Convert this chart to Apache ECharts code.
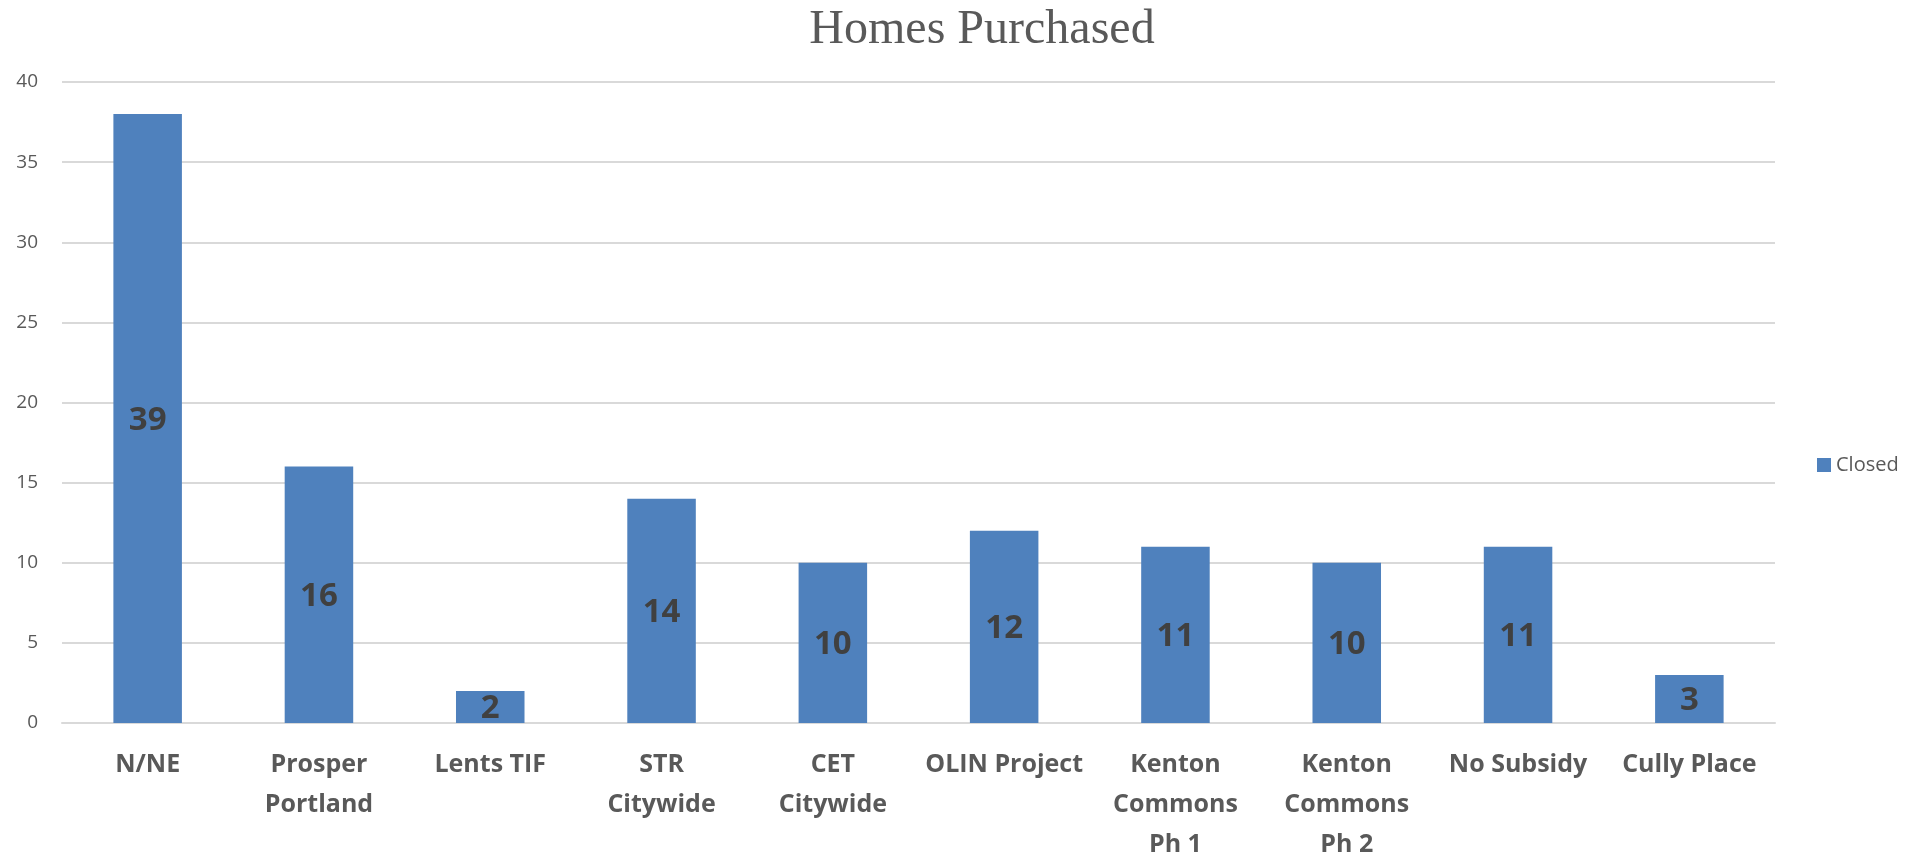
<!DOCTYPE html>
<html>
<head>
<meta charset="utf-8">
<script src="https://cdn.jsdelivr.net/npm/echarts@6/dist/echarts.min.js"></script>
<style>
html,body{margin:0;padding:0;background:#fff;}
#chart{width:1919px;height:856px;}
</style>
</head>
<body>
<div id="chart"></div>
<script>
const categories = ["N/NE", "Prosper\nPortland", "Lents TIF", "STR\nCitywide", "CET\nCitywide", "OLIN Project", "Kenton\nCommons\nPh 1", "Kenton\nCommons\nPh 2", "No Subsidy", "Cully Place"];
const closedValues = [38, 16, 2, 14, 10, 12, 11, 10, 11, 3];
const closedLabels = [39, 16, 2, 14, 10, 12, 11, 10, 11, 3];
const seriesName = "Closed";
const titleText = "Homes Purchased";

const chart = echarts.init(document.getElementById('chart'));
chart.setOption({
  animation: false,
  backgroundColor: '#ffffff',
  title: {
    text: titleText,
    left: 977,
    top: 1,
    textAlign: 'center',
    textStyle: {
      fontFamily: 'Liberation Serif',
      fontSize: 48,
      fontWeight: 'normal',
      color: '#595959'
    }
  },
  legend: {
    data: [seriesName],
    orient: 'vertical',
    left: 1817,
    top: 455,
    padding: 0,
    itemWidth: 14,
    itemHeight: 14,
    itemGap: 6,
    icon: 'rect',
    textStyle: {
      fontFamily: 'Open Sans',
      fontSize: 20,
      color: '#595959'
    }
  },
  grid: {
    left: 62,
    right: 144,
    top: 82,
    bottom: 133,
    containLabel: false,
    outerBoundsMode: 'none'
  },
  xAxis: {
    type: 'category',
    data: categories,
    axisLine: { show: true, lineStyle: { color: '#D9D9D9', width: 2 } },
    axisTick: { show: false },
    axisLabel: {
      interval: 0,
      margin: 22,
      fontFamily: 'Open Sans',
      fontWeight: 'bold',
      fontSize: 25,
      lineHeight: 40,
      color: '#595959'
    }
  },
  yAxis: {
    type: 'value',
    min: 0,
    max: 40,
    interval: 5,
    axisLine: { show: false },
    axisTick: { show: false },
    splitLine: { lineStyle: { color: '#D9D9D9', width: 2 } },
    axisLabel: {
      margin: 24,
      fontFamily: 'Open Sans',
      fontSize: 19,
      color: '#595959'
    }
  },
  series: [{
    name: seriesName,
    type: 'bar',
    data: closedValues,
    barCategoryGap: '60%',
    itemStyle: { color: '#4F81BD' },
    label: {
      show: true,
      position: 'inside',
      offset: [0, 2],
      formatter: function (p) { return String(closedLabels[p.dataIndex]); },
      fontFamily: 'Open Sans',
      fontWeight: 'bold',
      fontSize: 33,
      color: '#404040'
    }
  }]
});
</script>
</body>
</html>
